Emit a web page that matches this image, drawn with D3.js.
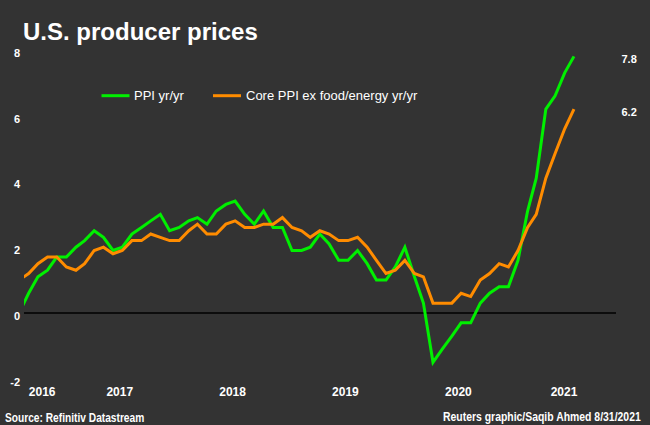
<!DOCTYPE html>
<html>
<head>
<meta charset="utf-8">
<script src="https://cdn.jsdelivr.net/npm/d3@7"></script>
<style>
  html, body { margin: 0; padding: 0; background: #333333; }
  svg { display: block; }
</style>
</head>
<body>
<div id="chart"></div>
<script>
// ---- Data (monthly, Aug 2016 – Jul 2021) ----
const startMonth = new Date(2016, 7, 1);
const endMonth = new Date(2021, 6, 1);
const months = d3.timeMonth.range(startMonth, d3.timeDay.offset(endMonth, 1));

const ppi = [
  0.0, 0.6, 1.1, 1.3, 1.7,                                   // 2016 Aug-Dec
  1.7, 2.0, 2.2, 2.5, 2.3, 1.9, 2.0, 2.4, 2.6, 2.8, 3.0, 2.5, // 2017
  2.6, 2.8, 2.9, 2.7, 3.1, 3.3, 3.4, 3.0, 2.7, 3.1, 2.6, 2.6, // 2018
  1.9, 1.9, 2.0, 2.4, 2.1, 1.6, 1.6, 1.9, 1.5, 1.0, 1.0, 1.4, // 2019
  2.0, 1.1, 0.3, -1.5, -1.1, -0.7, -0.3, -0.3, 0.3, 0.6, 0.8, 0.8, // 2020
  1.6, 3.1, 4.1, 6.2, 6.6, 7.3, 7.8                           // 2021 Jan-Jul
];
const corePpi = [
  1.0, 1.2, 1.5, 1.7, 1.7,
  1.4, 1.3, 1.5, 1.9, 2.0, 1.8, 1.9, 2.2, 2.2, 2.4, 2.3, 2.2,
  2.2, 2.5, 2.7, 2.4, 2.4, 2.7, 2.8, 2.6, 2.6, 2.7, 2.7, 2.9,
  2.6, 2.5, 2.3, 2.5, 2.4, 2.2, 2.2, 2.3, 2.0, 1.6, 1.2, 1.3,
  1.6, 1.2, 1.1, 0.3, 0.3, 0.3, 0.6, 0.5, 1.0, 1.2, 1.5, 1.4,
  1.9, 2.6, 3.0, 4.1, 4.85, 5.6, 6.2
];
const seriesNames = ["PPI yr/yr", "Core PPI ex food/energy yr/yr"];
const seriesColors = ["#00f000", "#ff8c00"];
const yTicks = [-2, 0, 2, 4, 6, 8];
const yearLabels = [2016, 2017, 2018, 2019, 2020, 2021];
const title = "U.S. producer prices";
const sourceText = "Source: Refinitiv Datastream";
const creditText = "Reuters graphic/Saqib Ahmed 8/31/2021";

// ---- Layout ----
const W = 650, H = 425;
const plotLeft = 24, plotRight = 616;

const x = d3.scaleTime()
  .domain([new Date(2016, 7, 17), new Date(2021, 10, 14)])
  .range([plotLeft, plotRight]);
const y = d3.scaleLinear().domain([-2, 8]).range([378.8, 49.8]);

const svg = d3.select("#chart").append("svg")
  .attr("width", W).attr("height", H)
  .style("background", "#333333");

svg.append("defs").append("clipPath").attr("id", "plotclip")
  .append("rect").attr("x", plotLeft).attr("y", 0)
  .attr("width", plotRight - plotLeft).attr("height", H);

// Title
svg.append("text")
  .attr("x", 23).attr("y", 40)
  .attr("fill", "#ffffff")
  .style("font-family", "'Liberation Sans', Arial, sans-serif")
  .style("font-weight", "bold")
  .style("font-size", "24px")
  .text(title);

// Y axis labels
const yAxis = d3.axisLeft(y).tickValues(yTicks).tickSize(0).tickPadding(0)
  .tickFormat(d => String(d));
const gy = svg.append("g").attr("transform", "translate(20,0)").call(yAxis);
gy.select(".domain").remove();
gy.selectAll("text")
  .attr("dy", null)
  .attr("y", 6.5)
  .attr("fill", "#ffffff")
  .style("font-family", "'Liberation Sans', Arial, sans-serif")
  .style("font-weight", "bold")
  .style("font-size", "11px");

// Zero line
svg.append("line")
  .attr("x1", plotLeft).attr("x2", plotRight)
  .attr("y1", y(0)).attr("y2", y(0))
  .attr("stroke", "#000000").attr("stroke-width", 1.3);

// Year labels (centred on visible part of each year)
const [d0, d1] = x.domain();
svg.append("g").selectAll("text").data(yearLabels).join("text")
  .attr("x", yr => {
    const a = new Date(Math.max(+new Date(yr, 0, 1), +d0));
    const b = new Date(Math.min(+new Date(yr + 1, 0, 1), +d1));
    return (x(a) + x(b)) / 2 - 3;
  })
  .attr("y", 395.5)
  .attr("text-anchor", "middle")
  .attr("fill", "#ffffff")
  .style("font-family", "'Liberation Sans', Arial, sans-serif")
  .style("font-weight", "bold")
  .style("font-size", "12px")
  .text(d => d);

// Lines
const line = d3.line().x((d, i) => x(months[i])).y(d => y(d));
const plot = svg.append("g").attr("clip-path", "url(#plotclip)");
[ppi, corePpi].forEach((s, k) => {
  plot.append("path")
    .datum(s)
    .attr("d", line)
    .attr("fill", "none")
    .attr("stroke", seriesColors[k])
    .attr("stroke-width", 3)
    .attr("stroke-linejoin", "miter");
});

// End value labels
[ppi, corePpi].forEach((s) => {
  const v = s[s.length - 1];
  svg.append("text")
    .attr("x", 621.5).attr("y", y(v) + 6.5)
    .attr("fill", "#ffffff")
    .style("font-family", "'Liberation Sans', Arial, sans-serif")
    .style("font-weight", "bold")
    .style("font-size", "11px")
    .text(d3.format(".1f")(v));
});

// Legend
const legendItems = [
  { x: 101.5, tx: 134 },
  { x: 213, tx: 246 }
];
legendItems.forEach((it, k) => {
  svg.append("line")
    .attr("x1", it.x).attr("x2", it.x + 28)
    .attr("y1", 95.7).attr("y2", 95.7)
    .attr("stroke", seriesColors[k]).attr("stroke-width", 3);
  svg.append("text")
    .attr("x", it.tx).attr("y", 100)
    .attr("fill", "#ffffff")
    .style("font-family", "'Liberation Sans', Arial, sans-serif")
    .style("font-size", "13px")
    .text(seriesNames[k]);
});

// Footer (narrow bold look via horizontal scaling)
function footer(txt, left, baseline, targetWidth) {
  const g = svg.append("g");
  const t = g.append("text")
    .attr("x", 0).attr("y", 0)
    .attr("fill", "#ffffff")
    .style("font-family", "'Liberation Sans', Arial, sans-serif")
    .style("font-weight", "bold")
    .style("font-size", "12.5px")
    .text(txt);
  const w = t.node().getComputedTextLength();
  g.attr("transform", `translate(${left},${baseline}) scale(${targetWidth / w},1)`);
}
footer(sourceText, 5, 421.5, 139.5);
footer(creditText, 443, 421, 198);
</script>
</body>
</html>
